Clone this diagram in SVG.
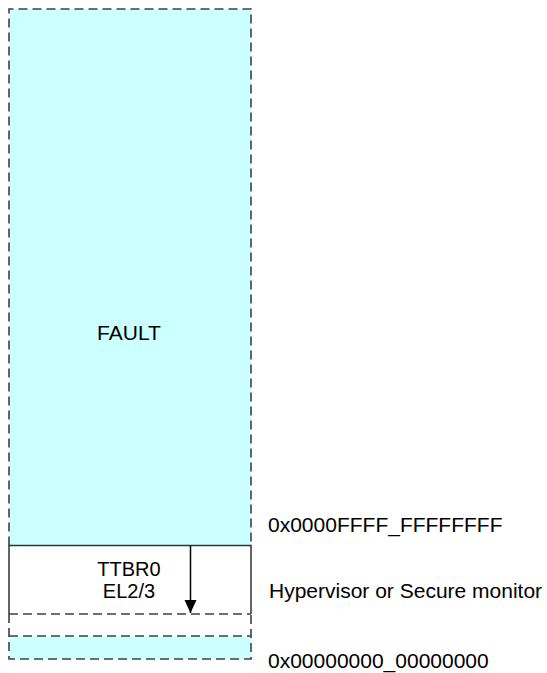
<svg xmlns="http://www.w3.org/2000/svg" width="547" height="673" viewBox="0 0 547 673">
<style>
text{font-family:"Liberation Sans",Arial,sans-serif;font-size:21px;fill:#000}
.c{text-anchor:middle}
.s{font-size:20px}
.dash{fill:none;stroke:#404040;stroke-width:1.6;stroke-dasharray:9,5}
.solid{fill:none;stroke:#333;stroke-width:1.5}
</style>
<defs>
<marker id="ah" markerWidth="12" markerHeight="13" refX="13" refY="6" orient="auto" markerUnits="userSpaceOnUse">
<path d="M0,0 L13,6 L0,12 Z" fill="#000"/>
</marker>
</defs>
<g id="fault">
<rect x="9" y="9" width="242" height="650" fill="#CCFFFF"/>
<text class="c" x="129" y="340">FAULT</text>
</g>
<g id="ttbr0">
<rect x="9" y="545.5" width="242" height="68.5" fill="#fff"/>
<rect x="9" y="614" width="242" height="22" fill="#fff"/>
<path class="solid" d="M9,614 V545.5 H251 V614"/>
<text class="c s" x="129" y="576">TTBR0</text>
<text class="c s" x="129" y="598">EL2/3</text>
</g>
<g id="outline">
<path class="dash" d="M9,545.5 V9 H251 V545.5"/>
<path class="dash" d="M9,614 H251"/>
<path class="dash" d="M9,636 H251"/>
<path class="dash" d="M9,614 V659 H251 V614"/>
</g>
<g id="labels">
<text x="268" y="532">0x0000FFFF_FFFFFFFF</text>
<text x="269" y="598">Hypervisor or Secure monitor</text>
<text x="268" y="668">0x00000000_00000000</text>
</g>
<g id="connectors">
<line x1="190.5" y1="546" x2="190.5" y2="613" stroke="#000" stroke-width="1.5" marker-end="url(#ah)"/>
</g>
</svg>
